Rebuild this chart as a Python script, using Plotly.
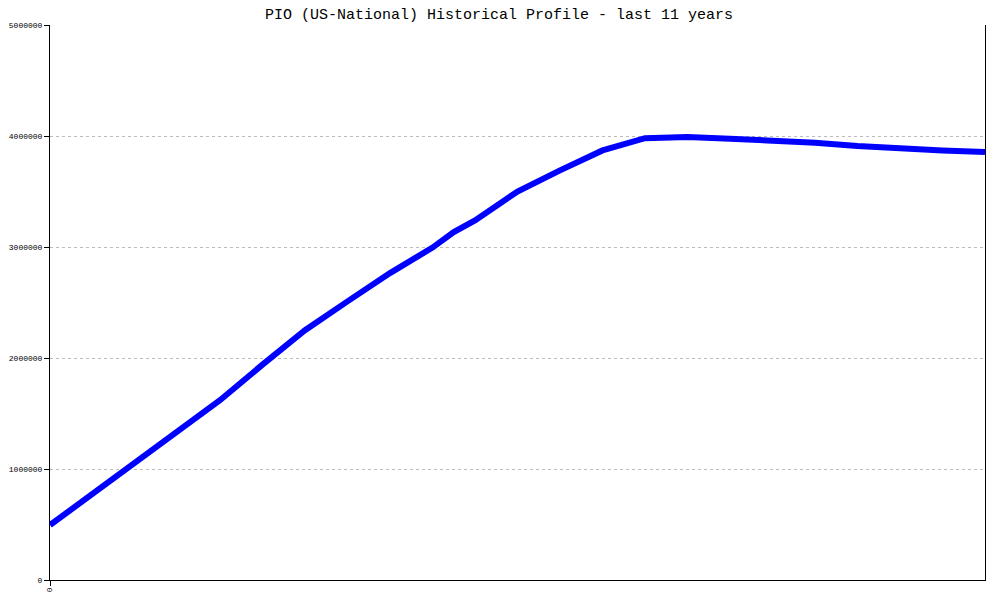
import plotly.graph_objects as go

months = [0, 6, 12, 18, 24, 30, 36, 42, 48, 54, 57, 60, 66, 72, 78, 84, 90, 96, 102, 108, 114, 120, 126, 132]
values = [495000, 775000, 1060000, 1340000, 1620000, 1940000, 2250000, 2510000, 2765000, 2995000,
          3135000, 3240000, 3500000, 3690000, 3870000, 3980000, 3990000, 3975000, 3960000, 3940000,
          3910000, 3885000, 3870000, 3856000]
y_ticks = [0, 1000000, 2000000, 3000000, 4000000, 5000000]
y_tick_text = ["0", "1000000", "2000000", "3000000", "4000000", "5000000"]
x_ticks = [0]
x_tick_text = ["0"]
title = "PIO (US-National) Historical Profile - last 11 years"

fig = go.Figure()
fig.add_trace(go.Scatter(x=months, y=values, mode="lines",
                         line=dict(color="#0000FF", width=6), hoverinfo="skip"))

fig.update_layout(
    width=1000, height=600,
    margin=dict(l=42, r=23, t=17, b=28, pad=0),
    paper_bgcolor="white", plot_bgcolor="white",
    showlegend=False,
    title=dict(text=title, x=0.491, xref="container", xanchor="center",
               y=1.0, yref="container", yanchor="top", automargin=False,
               font=dict(family="Liberation Mono, Courier New, monospace", size=15, color="black")),
    font=dict(family="Liberation Mono, Courier New, monospace", color="black"),
)
fig.update_xaxes(range=[0, 132], tickvals=x_ticks, ticktext=x_tick_text, tickangle=90,
                 automargin=False,
                 showgrid=False, zeroline=False, showline=True, linecolor="black", linewidth=1,
                 ticks="outside", ticklen=5, tickcolor="black", tickfont=dict(size=8))
fig.update_yaxes(range=[0, 5000000], tickvals=y_ticks, ticktext=y_tick_text,
                 automargin=False,
                 showgrid=True, gridcolor="#bbbbbb", griddash="dot", gridwidth=1,
                 zeroline=False, showline=True, linecolor="black", linewidth=1, mirror=True,
                 ticks="outside", ticklen=5, tickcolor="black", tickfont=dict(size=8))

fig.write_html("out.html")
